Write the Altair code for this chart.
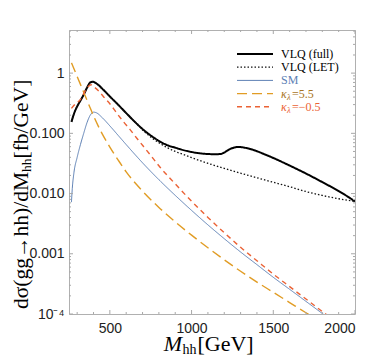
import altair as alt
import pandas as pd

W, H = 286, 284
x_dom = [250, 2000]
y_dom = [1e-4, 5.2]

# ---- data ----
m_full = [265, 280, 300, 320, 340, 360, 380, 395, 420, 460, 500, 550, 600, 650, 700, 750, 800, 850, 900, 950,
          1000, 1050, 1100, 1150, 1180, 1200, 1230, 1260, 1290, 1320, 1360, 1400, 1450, 1500, 1550, 1600, 1650,
          1700, 1750, 1800, 1850, 1900, 1950, 2000]
v_full = [0.155, 0.21, 0.28, 0.35, 0.44, 0.57, 0.70, 0.72, 0.665, 0.53, 0.41, 0.30, 0.217, 0.158, 0.118, 0.0923,
          0.075, 0.0638, 0.0578, 0.0527, 0.049, 0.0466, 0.0454, 0.045, 0.0455, 0.048, 0.054, 0.058, 0.0595, 0.058,
          0.055, 0.0505, 0.0445, 0.039, 0.0338, 0.0292, 0.0251, 0.0215, 0.0183, 0.0155, 0.0131, 0.0110, 0.0091,
          0.0074]

m_let = [265, 280, 300, 320, 340, 360, 380, 395, 420, 460, 500, 550, 600, 650, 700, 750, 800, 850, 900, 950,
         1000, 1100, 1200, 1300, 1400, 1500, 1600, 1700, 1800, 1900, 2000]
v_let = [0.155, 0.21, 0.28, 0.35, 0.44, 0.57, 0.70, 0.72, 0.665, 0.53, 0.41, 0.30, 0.217, 0.158, 0.114, 0.087,
         0.070, 0.058, 0.050, 0.0445, 0.0395, 0.0318, 0.0262, 0.0218, 0.0183, 0.0154, 0.013, 0.0108, 0.0093,
         0.0082, 0.0074]

m_sm = [265, 270, 280, 300, 320, 340, 360, 380, 400, 420, 450, 500, 550, 600, 700, 800, 900, 1000, 1100,
        1200, 1300, 1400, 1500, 1600, 1700, 1800, 1850]
v_sm = [0.0072, 0.012, 0.022, 0.040, 0.065, 0.10, 0.15, 0.20, 0.225, 0.218, 0.186, 0.133, 0.093, 0.065, 0.0324,
        0.0170, 0.00933, 0.00525, 0.00302, 0.00178, 0.00107, 0.00066, 0.000407, 0.000257, 0.000162,
        0.000102, 0.000081]

m_k55 = [265, 290, 320, 340, 360, 380, 400, 450, 500, 550, 600, 700, 800, 900, 1000, 1100, 1200, 1300, 1400,
         1500, 1600, 1700, 1750]
v_k55 = [1.48, 1.02, 0.65, 0.48, 0.355, 0.263, 0.195, 0.102, 0.059, 0.0363, 0.0229, 0.011, 0.00589, 0.00339,
         0.00204, 0.00126, 0.000794, 0.000513, 0.000339, 0.000229, 0.000155, 0.000105, 0.000087]

m_km05 = [265, 290, 318, 348, 374, 385, 400, 430, 460, 500, 542, 580, 624, 665, 705, 750, 800, 900, 1000,
          1100, 1200, 1300, 1400, 1500, 1600, 1700, 1800, 1850]
v_km05 = [0.26, 0.31, 0.36, 0.50, 0.62, 0.64, 0.60, 0.51, 0.41, 0.31, 0.217, 0.16, 0.115, 0.083, 0.061, 0.043,
          0.0289, 0.01446, 0.00746, 0.00402, 0.00224, 0.00128, 0.000766, 0.00046, 0.000285, 0.000177,
          0.00011, 0.000087]

x_major = [500, 1000, 1500, 2000]
x_minor = [300, 400, 600, 700, 800, 900, 1100, 1200, 1300, 1400, 1600, 1700, 1800, 1900]
y_major = [1e-4, 1e-3, 1e-2, 1e-1, 1]
y_minor = [m * 10.0 ** e for e in range(-4, 1) for m in range(2, 10) if m * 10.0 ** e <= 5.2]

series = [
    # name, M, values, color, dash, width, legend label color
    ("VLQ (full)", m_full, v_full, "#000000", [1, 0], 2.0, "#000000"),
    ("VLQ (LET)", m_let, v_let, "#111111", [1.5, 2], 1.3, "#000000"),
    ("SM", m_sm, v_sm, "#5E81B5", [1, 0], 1.0, "#5E81B5"),
    ("k5.5", m_k55, v_k55, "#E19C24", [10, 5], 1.4, "#A8741E"),
    ("k-0.5", m_km05, v_km05, "#EB6235", [5, 4], 1.4, "#EB6235"),
]

xs = alt.Scale(domain=x_dom, nice=False, zero=False)
ys = alt.Scale(type="log", domain=y_dom, nice=False)
xaxis = alt.Axis(values=x_major, format="d", ticks=False, domain=False, grid=False, title=None,
                 labelFont="Liberation Sans", labelFontSize=14, labelColor="#222222", labelPadding=7)
yaxis = alt.Axis(values=y_major, ticks=False, domain=False, grid=False, title=None,
                 labelFont="Liberation Sans", labelFontSize=14, labelColor="#222222", labelPadding=5,
                 labelExpr="datum.value >= 0.9 ? '1' : datum.value > 0.0005 ? format(datum.value, '.3f') : '10⁻⁴'")

layers = []
for name, m, v, col, dash, w, _ in series:
    df = pd.DataFrame({"M": m, "v": v})
    layers.append(
        alt.Chart(df).mark_line(color=col, strokeDash=dash, strokeWidth=w, clip=True, interpolate="monotone")
        .encode(x=alt.X("M:Q", scale=xs, axis=xaxis), y=alt.Y("v:Q", scale=ys, axis=yaxis))
    )

TICK = "#a8a8a8"
for vals, ln in [(x_major, 4), (x_minor, 2)]:
    d = pd.DataFrame({"t": vals})
    layers.append(alt.Chart(d).mark_rule(color=TICK, strokeWidth=1).encode(
        x=alt.X("t:Q", scale=xs, axis=xaxis), y=alt.value(H), y2=alt.value(H - ln)))
    layers.append(alt.Chart(d).mark_rule(color=TICK, strokeWidth=1).encode(
        x=alt.X("t:Q", scale=xs, axis=xaxis), y=alt.value(0), y2=alt.value(ln)))
for vals, ln in [(y_major, 4), (y_minor, 2)]:
    d = pd.DataFrame({"t": vals})
    layers.append(alt.Chart(d).mark_rule(color=TICK, strokeWidth=1).encode(
        y=alt.Y("t:Q", scale=ys, axis=yaxis), x=alt.value(0), x2=alt.value(ln)))
    layers.append(alt.Chart(d).mark_rule(color=TICK, strokeWidth=1).encode(
        y=alt.Y("t:Q", scale=ys, axis=yaxis), x=alt.value(W), x2=alt.value(W - ln)))

one = pd.DataFrame({"a": [0]})
SERIF = "Liberation Serif"


def txt(s, x, y, size, color="#000000", align="left", angle=0, style="normal", baseline="alphabetic"):
    kw = dict(font=SERIF, fontSize=size, color=color, align=align, baseline=baseline, fontStyle=style)
    if angle:
        kw["angle"] = angle
    return alt.Chart(one).mark_text(**kw).encode(x=alt.value(x), y=alt.value(y), text=alt.value(s))


# legend
lx0, lx1, ltx = 168, 204, 212
for i, (name, m, v, col, dash, w, tcol) in enumerate(series):
    yy = 24 + 13.2 * i
    layers.append(alt.Chart(one).mark_rule(color=col, strokeDash=dash, strokeWidth=w).encode(
        x=alt.value(lx0), x2=alt.value(lx1), y=alt.value(yy)))
    if name.startswith("k"):
        rest = "=5.5" if name == "k5.5" else "=\u22120.5"
        layers.append(txt("κ", ltx, yy + 4, 12, tcol, style="italic"))
        layers.append(txt("λ", ltx + 6, yy + 6.5, 8.5, tcol, style="italic"))
        layers.append(txt(rest, ltx + 11, yy + 4, 12, tcol))
    else:
        layers.append(txt(name, ltx, yy + 4, 12, tcol))

# x title
layers.append(txt("M", 113, 321, 22, style="italic", align="right"))
layers.append(txt("hh", 113.5, 324, 14))
layers.append(txt("[GeV]", 128.5, 321, 22))
# y title (rotated)
layers.append(txt("dσ(gg→hh)/dM", -41.5, 142, 21.5, align="right", angle=270))
layers.append(txt("hh", -38.3, 142, 13.5, align="left", angle=270))
layers.append(txt("[fb/GeV]", -41.5, 128.5, 21.5, align="left", angle=270))

chart = alt.layer(*layers).properties(
    width=W, height=H,
    autosize=alt.AutoSizeParams(type="none"),
    padding={"left": 61, "top": 22, "right": 8, "bottom": 42},
).configure_view(stroke="#b0b0b0", strokeWidth=1)

chart.save("out.html", embed_options={"renderer": "svg", "actions": False})
